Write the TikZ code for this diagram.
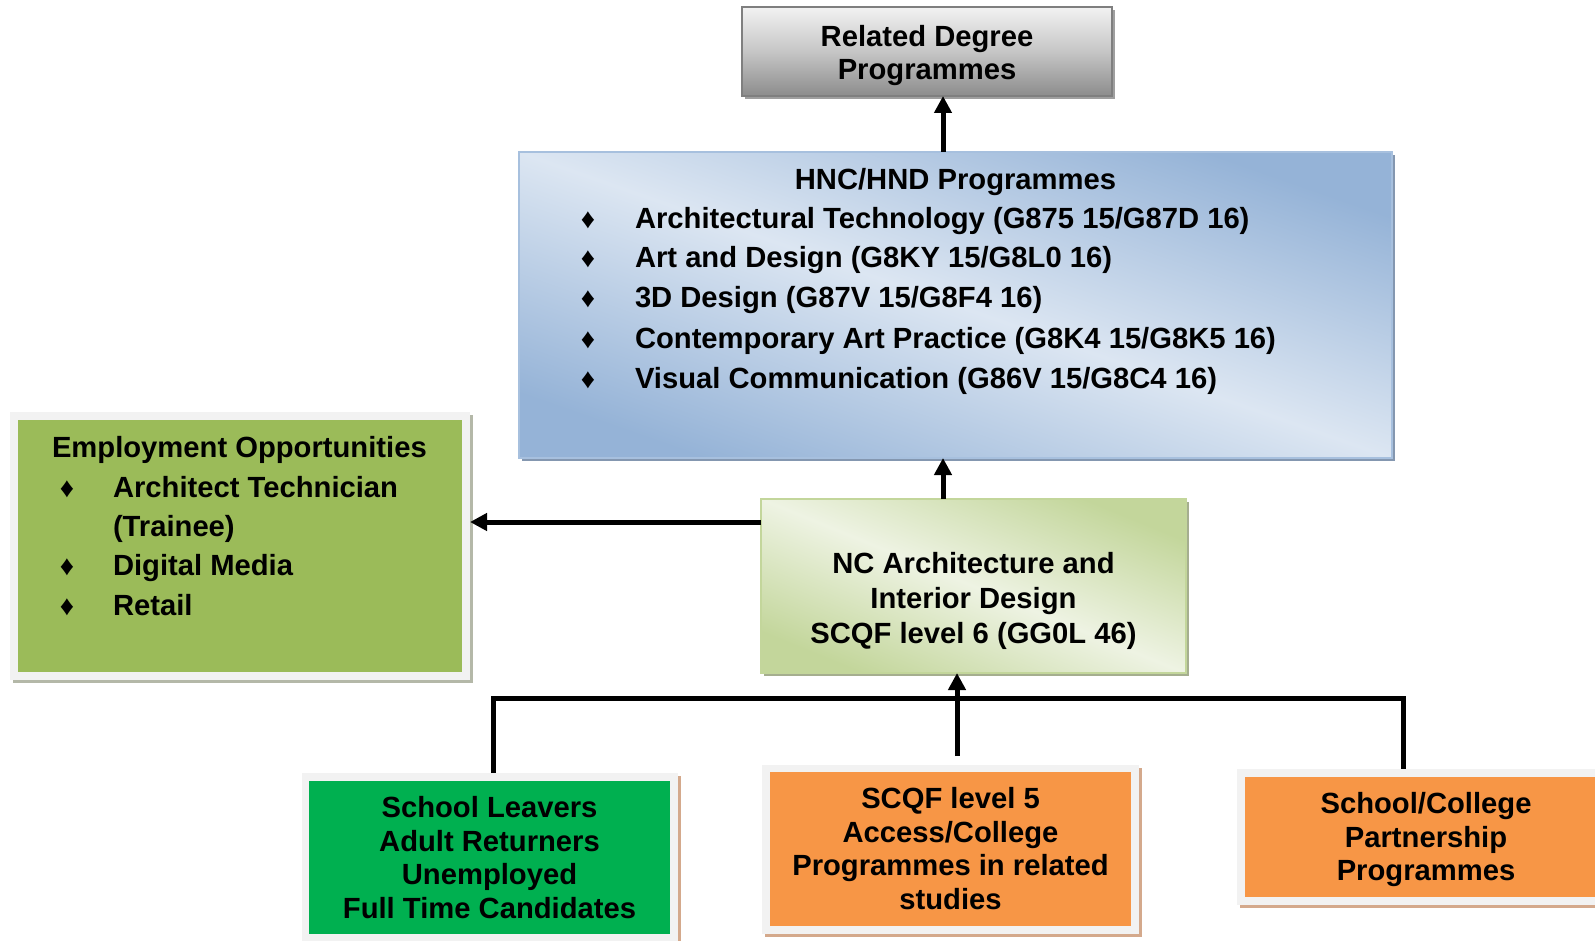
\documentclass[tikz,border=0pt]{standalone}
\usepackage{fontspec}
\setmainfont{Liberation Sans}
\usetikzlibrary{arrows.meta,shadows}
\definecolor{grayTop}{HTML}{F2F2F2}
\definecolor{grayBot}{HTML}{8C8C8C}
\definecolor{grayBorder}{HTML}{7F7F7F}
\definecolor{blueDark}{HTML}{95B3D7}
\definecolor{blueLight}{HTML}{DCE6F2}
\definecolor{blueBorder}{HTML}{A7C0DE}
\definecolor{blueShadow}{HTML}{8497B0}
\definecolor{greenDark}{HTML}{C3D69B}
\definecolor{greenLight}{HTML}{EEF3E3}
\definecolor{greenBorder}{HTML}{C3D69B}
\definecolor{greenShadow}{HTML}{A5AE8F}
\definecolor{olive}{HTML}{9BBB59}
\definecolor{leaf}{HTML}{00B050}
\definecolor{orangeF}{HTML}{F79646}
\definecolor{frameC}{HTML}{F2F2F2}
\definecolor{shadowGray}{HTML}{B4B8A8}
\definecolor{shadowBrown}{HTML}{D4A98C}
\begin{document}
\begin{tikzpicture}[x=1pt,y=-1pt,
 every node/.style={inner sep=0pt, outer sep=0pt},
 txt/.style={anchor=base, font=\fontsize{29.2}{34}\selectfont\bfseries},
 txtl/.style={txt, anchor=base west},
 bul/.style={anchor=base, font=\fontsize{28}{30}\selectfont},
 boxnode/.style 2 args={rectangle, minimum width=#1, minimum height=#2},
 shd/.style={drop shadow={shadow xshift=3pt, shadow yshift=-3pt, fill=#1, opacity=1}},
 conn/.style={line width=5pt, -{Triangle[length=17pt,width=17pt]}},
 link/.style={line width=5pt},
]
\useasboundingbox (0,0) rectangle (1595,941);
\clip (0,0) rectangle (1595,941);
\fill[white] (0,0) rectangle (1595,941);

% Related degree box
\node[boxnode={370pt}{89pt}, top color=grayTop, bottom color=grayBot, middle color=gray!45,
  draw=grayBorder, line width=1.5pt, shd=gray!75] (deg) at (927,51.5) {};
\node[txt] (deg1) at (927,47) {Related Degree};
\node[txt] (deg2) at (927,80) {Programmes};

% HNC box
\node[boxnode={873pt}{306pt}, left color=blueDark, right color=blueDark, middle color=blueLight,
  shading angle=-19.3, draw=blueBorder, line width=1.5pt, shd=blueShadow] (hnc) at (955.5,305) {};
\node[txt] (hnch) at (955.5,190) {HNC/HND Programmes};
\node[bul] (hb1) at (588,229) {♦};
\node[bul] (hb2) at (588,268) {♦};
\node[bul] (hb3) at (588,308) {♦};
\node[bul] (hb4) at (588,348) {♦};
\node[bul] (hb5) at (588,388) {♦};
\node[txtl] (h1) at (635,229) {Architectural Technology (G875 15/G87D 16)};
\node[txtl] (h2) at (635,268) {Art and Design (G8KY 15/G8L0 16)};
\node[txtl] (h3) at (635,308) {3D Design (G87V 15/G8F4 16)};
\node[txtl] (h4) at (635,348) {Contemporary Art Practice (G8K4 15/G8K5 16)};
\node[txtl] (h5) at (635,388) {Visual Communication (G86V 15/G8C4 16)};

% NC box
\node[boxnode={425pt}{174pt}, left color=greenDark, right color=greenDark, middle color=greenLight,
  shading angle=-22.3, draw=greenBorder, line width=1.5pt, shd=greenShadow] (nc) at (973.5,586) {};
\node[txt] (nc1) at (973.5,573) {NC Architecture and};
\node[txt] (nc2) at (973.5,608) {Interior Design};
\node[txt] (nc3) at (973.5,643) {SCQF level 6 (GG0L 46)};

% Employment box
\node[boxnode={460pt}{268pt}, fill=frameC, shd=shadowGray] (empf) at (240,546) {};
\node[boxnode={444pt}{252pt}, fill=olive] (emp) at (240,546) {};
\node[txtl] (e0) at (52,457) {Employment Opportunities};
\node[bul] (eb1) at (67,497) {♦};
\node[bul] (eb2) at (67,575) {♦};
\node[bul] (eb3) at (67,615) {♦};
\node[txtl] (e1) at (113,497) {Architect Technician};
\node[txtl] (e1b) at (113,536) {(Trainee)};
\node[txtl] (e2) at (113,575) {Digital Media};
\node[txtl] (e3) at (113,615) {Retail};

% School leavers box
\node[boxnode={376pt}{172pt}, fill=frameC, shd=shadowBrown] (slf) at (490,859) {};
\node[boxnode={361pt}{153pt}, fill=leaf] (sl) at (489.5,857.5) {};
\node[txt] (sl1) at (489.5,817) {School Leavers};
\node[txt] (sl2) at (489.5,851) {Adult Returners};
\node[txt] (sl3) at (489.5,884) {Unemployed};
\node[txt] (sl4) at (489.5,918) {Full Time Candidates};

% SCQF level 5 box
\node[boxnode={377pt}{169pt}, fill=frameC, shd=shadowBrown] (scf) at (950.5,849.5) {};
\node[boxnode={361pt}{154pt}, fill=orangeF] (sc) at (950.5,849) {};
\node[txt] (sc1) at (950.5,808) {SCQF level 5};
\node[txt] (sc2) at (950.5,842) {Access/College};
\node[txt] (sc3) at (950.5,875) {Programmes in related};
\node[txt] (sc4) at (950.5,909) {studies};

% School/College box
\node[boxnode={378pt}{136pt}, fill=frameC, shd=shadowBrown] (pcf) at (1426,837) {};
\node[boxnode={362pt}{120pt}, fill=orangeF] (pc) at (1426,837) {};
\node[txt] (pc1) at (1426,813) {School/College};
\node[txt] (pc2) at (1426,847) {Partnership};
\node[txt] (pc3) at (1426,880) {Programmes};

% connectors
\coordinate (xa) at (943,0);
\coordinate (ya) at (0,522);
\coordinate (xl) at (493,0);
\coordinate (xr) at (1403,0);
\coordinate (yb) at (0,698);
\coordinate (ms) at (957,756);

\draw[conn] (hnc.north -| xa) -- (deg.south -| xa);
\draw[conn] (nc.north -| xa) -- (hnc.south -| xa);
\draw[conn] (nc.west |- ya) -- (empf.east |- ya);
\draw[link, line join=miter] (slf.north -| xl) -- (xl |- yb) -- (xr |- yb) -- (pcf.north -| xr);
\draw[conn] (ms) -- (nc.south -| ms);
\end{tikzpicture}
\end{document}
